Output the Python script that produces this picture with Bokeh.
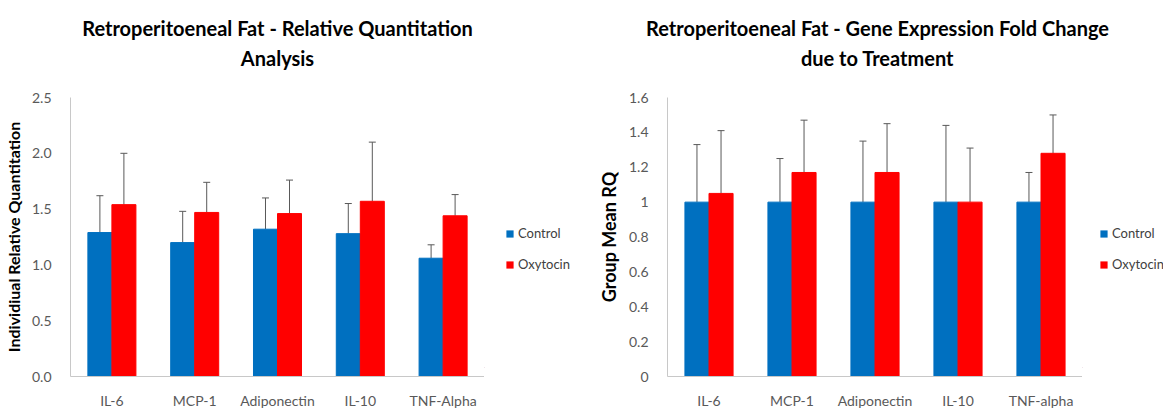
from bokeh.plotting import figure
from bokeh.models import (ColumnDataSource, FactorRange, Range1d, Whisker, TeeHead,
                          Legend, LegendItem, Label, NumeralTickFormatter, FixedTicker)
from bokeh.transform import dodge
from bokeh.layouts import row, column
from bokeh.embed import file_html
from bokeh.resources import INLINE

# ---- data: left chart (individual relative quantitation) ----
left_title = ["Retroperitoeneal Fat - Relative Quantitation", "Analysis"]
left_ylabel = "Individiual Relative Quantitation"
left_categories = ["IL-6", "MCP-1", "Adiponectin", "IL-10", "TNF-Alpha"]
left_control = [1.29, 1.20, 1.32, 1.28, 1.06]
left_control_upper = [1.62, 1.48, 1.60, 1.55, 1.18]
left_oxytocin = [1.54, 1.47, 1.46, 1.57, 1.44]
left_oxytocin_upper = [2.00, 1.74, 1.76, 2.10, 1.63]
left_ticks = [0.0, 0.5, 1.0, 1.5, 2.0, 2.5]

# ---- data: right chart (group mean RQ) ----
right_title = ["Retroperitoeneal Fat - Gene Expression Fold Change", "due to Treatment"]
right_ylabel = "Group Mean RQ"
right_categories = ["IL-6", "MCP-1", "Adiponectin", "IL-10", "TNF-alpha"]
right_control = [1.00, 1.00, 1.00, 1.00, 1.00]
right_control_upper = [1.33, 1.25, 1.35, 1.44, 1.17]
right_oxytocin = [1.05, 1.17, 1.17, 1.00, 1.28]
right_oxytocin_upper = [1.41, 1.47, 1.45, 1.31, 1.50]
right_ticks = [0, 0.2, 0.4, 0.6, 0.8, 1.0, 1.2, 1.4, 1.6]

series_names = ["Control", "Oxytocin"]
BLUE = "#0070C0"
RED = "#FF0000"
FONT = "Lato"
TXT = "#595959"
TOTAL_W = 1151
TITLE_H = 70
FH = 279
TOP = 27
BOTTOM = 26


def make_chart(ylabel, ylabel_size, cats, ctrl, ctrl_up, oxy, oxy_up, ticks, fmt, fw, bl):
    src = ColumnDataSource(dict(cat=cats, ctrl=ctrl, ctrl_up=ctrl_up, oxy=oxy, oxy_up=oxy_up))
    p = figure(x_range=FactorRange(factors=cats), y_range=Range1d(0, ticks[-1]),
               frame_width=fw, frame_height=FH, output_backend="svg", toolbar_location=None,
               min_border_left=bl, min_border_right=0, min_border_top=TOP,
               min_border_bottom=BOTTOM)
    p.outline_line_color = None
    p.xgrid.grid_line_color = None
    p.ygrid.grid_line_color = None

    off = 0.145
    bw = 0.29
    p.vbar(x=dodge("cat", -off, range=p.x_range), top="ctrl", width=bw, source=src,
           fill_color=BLUE, line_color=BLUE)
    p.vbar(x=dodge("cat", off, range=p.x_range), top="oxy", width=bw, source=src,
           fill_color=RED, line_color=RED)
    for xo, lo, up in [(-off, "ctrl", "ctrl_up"), (off, "oxy", "oxy_up")]:
        w = Whisker(source=src, base=dodge("cat", xo, range=p.x_range), lower=lo, upper=up,
                    dimension="height", line_color="#595959", line_width=1,
                    upper_head=TeeHead(size=7, line_color="#595959", line_width=1),
                    lower_head=None)
        p.add_layout(w)

    for ax in (p.xaxis[0], p.yaxis[0]):
        ax.axis_line_color = "#C8C8C8"
        ax.major_tick_line_color = None
        ax.minor_tick_line_color = None
        ax.major_label_text_color = TXT
        ax.major_label_text_font = FONT
        ax.major_label_text_font_size = "14px"
    p.xaxis.major_label_standoff = 9
    p.yaxis.major_label_standoff = 13
    p.yaxis.ticker = FixedTicker(ticks=ticks)
    p.yaxis.formatter = NumeralTickFormatter(format=fmt)
    p.yaxis.axis_label = ylabel
    p.yaxis.axis_label_text_font = FONT
    p.yaxis.axis_label_text_font_style = "bold"
    p.yaxis.axis_label_text_font_size = ylabel_size
    p.yaxis.axis_label_text_color = "#000000"
    p.yaxis.axis_label_standoff = 6
    return p


def make_legend(width, x):
    total_h = TOP + FH + BOTTOM
    q = figure(width=width, height=total_h, output_backend="svg", toolbar_location=None,
               x_axis_type=None, y_axis_type=None, min_border=0,
               x_range=Range1d(0, 1), y_range=Range1d(0, 1))
    q.outline_line_color = None
    q.xgrid.visible = False
    q.ygrid.visible = False
    # swatch renderers kept outside the visible range; only their legend glyphs show
    ra = q.vbar(x=[-5], top=[-5], bottom=[-6], width=0.1, fill_color=BLUE, line_color=None)
    rb = q.vbar(x=[-5], top=[-5], bottom=[-6], width=0.1, fill_color=RED, line_color=None)
    legend = Legend(items=[LegendItem(label=series_names[0], renderers=[ra]),
                           LegendItem(label=series_names[1], renderers=[rb])],
                    location=(x, 95), border_line_color=None,
                    background_fill_alpha=0, padding=0, margin=0,
                    glyph_width=9, glyph_height=9, label_standoff=4,
                    label_text_font=FONT, label_text_font_size="13px",
                    label_text_color="#404040", spacing=15)
    q.add_layout(legend)
    return q


# title strip across both charts
t = figure(width=TOTAL_W, height=TITLE_H, output_backend="svg", toolbar_location=None,
           x_axis_type=None, y_axis_type=None, min_border=0,
           x_range=Range1d(0, TOTAL_W), y_range=Range1d(0, TITLE_H))
t.outline_line_color = None
t.xgrid.visible = False
t.ygrid.visible = False
for cx, lines in [(277, left_title), (877, right_title)]:
    for i, line in enumerate(lines):
        t.add_layout(Label(x=cx, y=TITLE_H - 27 - 30 * i, text=line, text_align="center",
                           text_baseline="middle", text_font=FONT, text_font_style="bold",
                           text_font_size="20px", text_color="#000000"))

p1 = make_chart(left_ylabel, "16px", left_categories,
                left_control, left_control_upper, left_oxytocin, left_oxytocin_upper,
                left_ticks, "0.0", 414, 58)
l1 = make_legend(105, 21)
p2 = make_chart(right_ylabel, "18px", right_categories,
                right_control, right_control_upper, right_oxytocin, right_oxytocin_upper,
                right_ticks, "0.[0]", 415, 78)
l2 = make_legend(81, 17)

layout = column(t, row(p1, l1, p2, l2))
open("out.html", "w").write(file_html(layout, INLINE))
